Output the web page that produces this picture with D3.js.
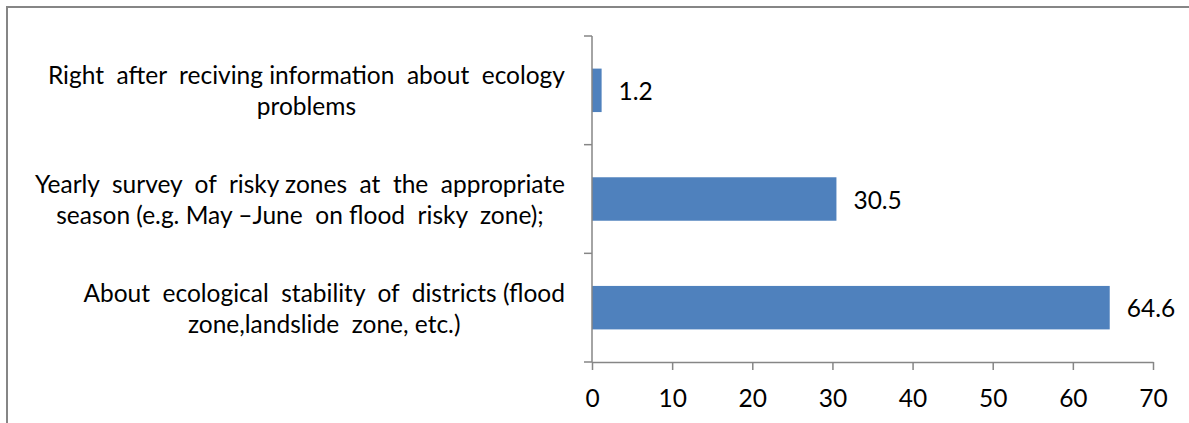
<!DOCTYPE html>
<html>
<head>
<meta charset="utf-8">
<script src="https://cdn.jsdelivr.net/npm/d3@7"></script>
<style>
  html, body { margin: 0; padding: 0; background: #fff; overflow: hidden; }
  svg { display: block; }
  text { font-family: Lato, "Open Sans", sans-serif; fill: #000; white-space: pre; }
</style>
</head>
<body>
<svg id="chart" width="1189" height="423"></svg>
<script>
// Categories, top to bottom; each entry holds the wrapped label lines.
const categories = [
  ["Right  after  reciving information  about  ecology", "problems"],
  ["Yearly  survey  of  risky zones  at  the  appropriate", "season (e.g. May \u2013June  on flood  risky  zone);"],
  ["About  ecological  stability  of  districts (flood", "zone,landslide  zone, etc.)"]
];
const values = [1.2, 30.5, 64.6];
const tickValues = [0, 10, 20, 30, 40, 50, 60, 70];

const svg = d3.select("#chart");
const axisColor = "#868686";
const barColor = "#4F81BD";
const fontSize = 24.5;

// Outer frame (right and bottom edges fall outside the view)
svg.append("rect")
  .attr("x", 7).attr("y", 7)
  .attr("width", 1300).attr("height", 500)
  .attr("fill", "none").attr("stroke", axisColor).attr("stroke-width", 2);

const x = d3.scaleLinear().domain([0, 70]).range([592, 1153]);
const keys = categories.map((c, i) => i);
const y = d3.scaleBand().domain(keys).range([36, 362])
  .paddingInner(0.6).paddingOuter(0.3);

// Bars
svg.append("g").selectAll("rect")
  .data(values)
  .join("rect")
  .attr("x", x(0))
  .attr("y", (d, i) => y(i))
  .attr("width", d => x(d) - x(0))
  .attr("height", y.bandwidth())
  .attr("fill", barColor);

// Value labels
svg.append("g").selectAll("text")
  .data(values)
  .join("text")
  .attr("x", d => x(d) + 17)
  .attr("y", (d, i) => y(i) + y.bandwidth() / 2 + 1)
  .attr("dy", "0.35em")
  .attr("font-size", fontSize)
  .text(d => d.toFixed(1));

// X axis
const xAxis = svg.append("g")
  .attr("transform", `translate(0,362)`)
  .call(d3.axisBottom(x).tickValues(tickValues).tickSize(8).tickSizeOuter(0).tickPadding(20));
xAxis.select(".domain").attr("stroke", axisColor).attr("stroke-width", 1.5);
xAxis.selectAll(".tick line").attr("stroke", axisColor).attr("stroke-width", 1.5);
xAxis.selectAll(".tick text")
  .attr("font-size", fontSize)
  .attr("font-family", "Lato, 'Open Sans', sans-serif")
  .attr("fill", "#000");

// Y axis: line plus ticks at category boundaries
const yAxis = svg.append("g");
yAxis.append("line")
  .attr("x1", x(0)).attr("x2", x(0))
  .attr("y1", y.range()[0]).attr("y2", y.range()[1])
  .attr("stroke", axisColor).attr("stroke-width", 1.5);
const bounds = d3.range(keys.length + 1).map(i => y.range()[0] + i * y.step());
yAxis.selectAll("line.tick")
  .data(bounds)
  .join("line")
  .attr("class", "tick")
  .attr("x1", x(0) - 8).attr("x2", x(0))
  .attr("y1", d => d).attr("y2", d => d)
  .attr("stroke", axisColor).attr("stroke-width", 1.5);

// Category labels: block right-aligned near the axis, lines centred in the block
const labelRight = 565;
const lineGap = 31;
const labels = svg.append("g");
categories.forEach((lines, i) => {
  const cy = y(i) + y.bandwidth() / 2 + 1;
  const g = labels.append("g");
  const ts = g.selectAll("text")
    .data(lines)
    .join("text")
    .attr("font-size", fontSize)
    .attr("text-anchor", "middle")
    .attr("y", (d, j) => cy + (j - (lines.length - 1) / 2) * lineGap)
    .attr("dy", "0.35em")
    .text(d => d);
  const maxW = d3.max(ts.nodes(), n => n.getComputedTextLength());
  ts.attr("x", labelRight - maxW / 2);
});
</script>
</body>
</html>
